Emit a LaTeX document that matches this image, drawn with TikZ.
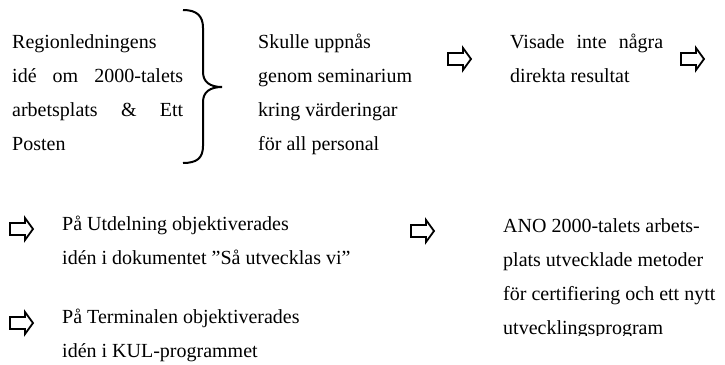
\documentclass[tikz,border=0pt]{standalone}
\usepackage{fontspec}
\setmainfont{Liberation Serif}
\begin{document}
\begin{tikzpicture}[x=1pt,y=-1pt,
  txt/.style={inner sep=0pt,anchor=base west,align=left,font=\fontsize{20pt}{34pt}\selectfont},
  fatarrow/.pic={\draw[line width=1.8pt,line join=miter] (0,-6) -- (15,-6) -- (15,-11) -- (23,0) -- (15,11) -- (15,6) -- (0,6) -- cycle;},
  bracestyle/.style={line width=2pt}]
\useasboundingbox (0,0) rectangle (725,364);
% row 1 (anchors at the baseline of the last line)
\node[txt] (a) at (12,150) {Regionledningens\\\makebox[171pt][s]{idé om 2000-talets}\\\makebox[171pt][s]{arbetsplats \& Ett}\\Posten};
\draw[bracestyle] (183,10) .. controls (197,10) and (203,16) .. (203,28) -- (203,72)
  .. controls (203,82) and (210,87) .. (222,87)
  .. controls (210,87) and (203,92) .. (203,102) -- (203,146)
  .. controls (203,158) and (197,163) .. (183,163);
\node[txt] (b) at (258,150) {Skulle uppnås\\genom seminarium\\kring värderingar\\för all personal};
\pic at (448,59) {fatarrow};
\node[txt] (c) at (510,82) {\makebox[153pt][s]{Visade inte några}\\direkta resultat};
\pic at (681,59) {fatarrow};
% row 2
\pic at (10,229) {fatarrow};
\node[txt] (d) at (62,264) {På Utdelning objektiverades\\idén i dokumentet ”Så utvecklas vi”};
\pic at (10,323) {fatarrow};
\node[txt] (e) at (62,357) {På Terminalen objektiverades\\idén i KUL-programmet};
\pic at (411,231) {fatarrow};
\begin{scope}
\clip (480,200) rectangle (725,335);
\node[txt] (f) at (503,334) {ANO 2000-talets arbets-\\plats utvecklade metoder\\för certifiering och ett nytt\\utvecklingsprogram};
\end{scope}
\end{tikzpicture}
\end{document}
